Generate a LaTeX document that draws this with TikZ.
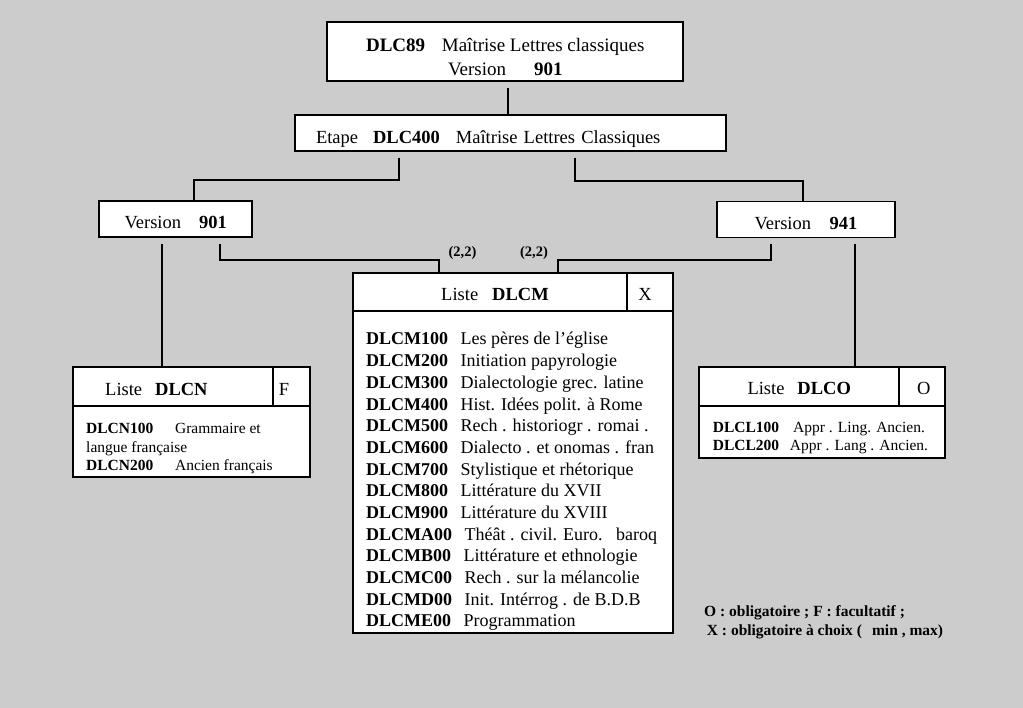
\documentclass[tikz,border=0pt]{standalone}
\usepackage{fontspec}
\setmainfont{Liberation Serif}
\definecolor{paper}{RGB}{204,204,204}
\begin{document}
\begin{tikzpicture}[x=1pt, y=-1pt, every node/.style={font=\fontsize{18.5}{24}\selectfont},
  box/.style={draw, line width=1.8pt, fill=white, inner sep=0pt, align=center},
  rule/.style={line width=1.8pt},
  link/.style={line width=1.8pt, shorten <=6pt},
  item/.style={anchor=base west, inner sep=0pt, font=\fontsize{18}{21.7}\selectfont},
  small/.style={anchor=base west, inner sep=0pt, font=\fontsize{15.5}{18.6}\selectfont},
  card/.style={font=\bfseries\fontsize{14.5}{17}\selectfont, anchor=base, inner sep=0pt}]
\fill[paper] (0,0) rectangle (1023,708);
% diplome, etape, versions
\node[box, minimum width=356pt, minimum height=59pt, font=\fontsize{19}{24}\selectfont, text height=48pt, text depth=0pt] (dlc89) at (505.3,51.2)
  {\textbf{DLC89}\hspace{16.7pt}Maîtrise Lettres classiques\\Version\hspace{28pt}\textbf{901}};
\node[box, minimum height=36pt, inner xsep=21pt, text width=389pt, align=left, text height=22pt, text depth=0pt] (etape) at (510.5,133)
  {Etape\hspace{15pt}\textbf{DLC400}\hspace{16pt}Maîtrise Lettres Classiques};
\node[box, minimum width=153pt, minimum height=36pt, text height=20pt, text depth=0pt] (v901) at (175.7,219) {Version\hspace{18pt}\textbf{901}};
\node[box, minimum width=178pt, minimum height=36pt, text height=20pt, text depth=0pt] (v941) at (806,219.5) {Version\hspace{18.6pt}\textbf{941}};
% listes
\node[box, minimum width=320pt, minimum height=360pt] (dlcm) at (513.3,453.3) {};
\draw[rule] ([yshift=-39pt]dlcm.north west) -- ([yshift=-39pt]dlcm.north east);
\draw[rule] ([xshift=-47pt]dlcm.north east) -- ([xshift=-47pt,yshift=-39pt]dlcm.north east);
\node[anchor=base, inner sep=0pt] (dlcm-t) at (495,301) {Liste\hspace{14pt}\textbf{DLCM}};
\node[anchor=base, inner sep=0pt] (dlcm-x) at (645,301) {X};
\foreach \c/\t [count=\i from 0] in {DLCM100/Les pères de l’église, DLCM200/Initiation papyrologie,
    DLCM300/Dialectologie grec. latine, DLCM400/Hist. Idées polit. à Rome, DLCM500/Rech . historiogr . romai .,
    DLCM600/Dialecto . et onomas . fran, DLCM700/Stylistique et rhétorique, DLCM800/Littérature du XVII,
    DLCM900/Littérature du XVIII, DLCMA00/Théât . civil. Euro.\ \ \ baroq, DLCMB00/Littérature et ethnologie,
    DLCMC00/Rech . sur la mélancolie, DLCMD00/Init. Intérrog . de B.D.B, DLCME00/Programmation}
  \node[item] (dlcm-\i) at ({366},{345+21.67*\i}) {\textbf{\c}\hspace{12.5pt}\t};

\node[box, minimum width=236.7pt, minimum height=110pt] (dlcn) at (191.7,421.7) {};
\draw[rule] ([yshift=-40pt]dlcn.north west) -- ([yshift=-40pt]dlcn.north east);
\draw[rule] ([xshift=-38.3pt]dlcn.north east) -- ([xshift=-38.3pt,yshift=-40pt]dlcn.north east);
\node[anchor=base west, inner sep=0pt] (dlcn-t) at (105,395.7) {Liste\hspace{13pt}\textbf{DLCN}};
\node[anchor=base, inner sep=0pt] (dlcn-f) at (284,395.7) {F};
\foreach \t [count=\i from 0] in {\textbf{DLCN100}\hspace{21.7pt}Grammaire et, langue française,
    \textbf{DLCN200}\hspace{21.7pt}Ancien français}
  \node[small] (dlcn-\i) at ({86},{433.3+18.8*\i}) {\t};

\node[box, minimum width=246pt, minimum height=91.7pt] (dlco) at (822.3,412.5) {};
\draw[rule] ([yshift=-40pt]dlco.north west) -- ([yshift=-40pt]dlco.north east);
\draw[rule] ([xshift=-47pt]dlco.north east) -- ([xshift=-47pt,yshift=-40pt]dlco.north east);
\node[anchor=base west, inner sep=0pt] (dlco-t) at (747.3,395) {Liste\hspace{13pt}\textbf{DLCO}};
\node[anchor=base, inner sep=0pt] (dlco-o) at (923.7,395) {O};
\node[small] (dlco-0) at (712.7,432.7) {\textbf{DLCL100}\hspace{14pt}Appr . Ling. Ancien.};
\node[small] (dlco-1) at (712.7,450) {\textbf{DLCL200}\hspace{10.7pt}Appr . Lang . Ancien.};
% liens
\draw[link] ([xshift=3pt]dlc89.south) -- ([xshift=3pt]dlc89.south |- etape.north);
\draw[link] ([xshift=-111.5pt]etape.south) -- ++(0,28.3) -| ([xshift=18.3pt]v901.north);
\draw[link] ([xshift=64.5pt]etape.south) -- ++(0,29) -| ([xshift=-2.7pt]v941.north);
\coordinate (v901-l) at ([xshift=-14pt]v901.south);
\coordinate (v941-r) at ([xshift=49pt]v941.south);
\draw[link] (v901-l) -- (v901-l |- dlcn.north);
\draw[link] (v941-r) -- (v941-r |- dlco.north);
\draw[link] ([xshift=44.3pt]v901.south) -- ++(0,22) -| ([xshift=-74.3pt]dlcm.north);
\draw[link] ([xshift=-35pt]v941.south) -- ++(0,21.7) -| ([xshift=44.4pt]dlcm.north);
\node[card] (card-l) at (462.5,256.7) {(2,2)};
\node[card] (card-r) at (534,256.7) {(2,2)};
% legende
\node[small, font=\bfseries\fontsize{15.5}{18.6}\selectfont] (leg-1) at (704,616.7) {O : obligatoire ; F : facultatif ;};
\node[small, font=\bfseries\fontsize{15.5}{18.6}\selectfont] (leg-2) at (706.7,635) {X : obligatoire à choix (\hspace{10pt}min , max)};
\end{tikzpicture}
\end{document}
